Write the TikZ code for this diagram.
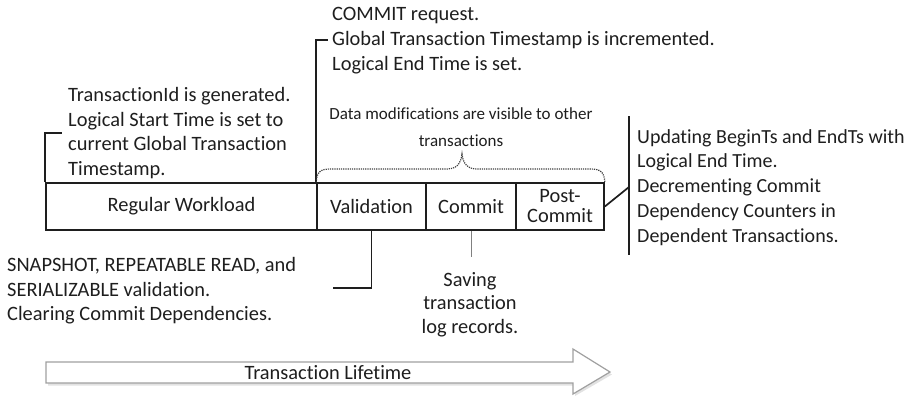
\documentclass[tikz,border=0pt]{standalone}
\usepackage{fontspec}
\setmainfont{Carlito}[Ligatures=NoCommon]
\definecolor{ink}{HTML}{1E1E1E}
\definecolor{arrowgray}{HTML}{A0A0A0}
\definecolor{shadowgray}{HTML}{E2E2E2}
\begin{document}
\begin{tikzpicture}[x=1pt,y=-1pt,
  txt/.style={inner sep=0pt, text=ink, align=left, font=\fontsize{20.4}{24.8}\selectfont},
  smalltxt/.style={inner sep=0pt, text=ink, align=center, font=\fontsize{17}{27}\selectfont},
  cell/.style={draw=ink, line width=1.7pt, minimum height=47pt, inner sep=0pt, text=ink, font=\fontsize{20.4}{20}\selectfont, align=center},
  callout/.style={draw=ink, line width=1.7pt},
  thinline/.style={draw=gray, line width=0.9pt},
  bracestyle/.style={draw=ink!85, line width=1.2pt, densely dotted}
]
\useasboundingbox (0,0) rectangle (921,397);

% cells
\node[cell, minimum width=271pt] (rw) at (181.5,206.5) {Regular Workload};
\node[cell, minimum width=109pt] (val) at (371.5,206.5) {Validation};
\node[cell, minimum width=90pt] (com) at (471,206.5) {Commit};
\node[cell, minimum width=88pt] (post) at (560,206.5) {Post-\\Commit};

% texts
\node[txt, anchor=north west] (tid) at (68,87) {TransactionId is generated.\\Logical Start Time is set to\\current Global Transaction\\Timestamp.};
\node[txt, anchor=north west] (creq) at (332,7) {COMMIT request.\\Global Transaction Timestamp is incremented.\\Logical End Time is set.};
\node[smalltxt, anchor=north] (vis) at (461,107) {Data modifications are visible to other\\transactions};
\node[txt, anchor=north west, font=\fontsize{20}{24.8}\selectfont] (upd) at (637,129) {Updating BeginTs and EndTs with\\Logical End Time.\\Decrementing Commit\\Dependency Counters in\\Dependent Transactions.};
\node[txt, anchor=north west] (snap) at (7,257) {SNAPSHOT, REPEATABLE READ, and\\SERIALIZABLE validation.\\Clearing Commit Dependencies.};
\node[txt, anchor=north, align=center, font=\fontsize{20.4}{23.5}\selectfont] (save) at (470,272) {Saving\\transaction\\log records.};

% callout coordinates
\coordinate (c1) at (62,133);
\coordinate (c2) at (328,40);
\coordinate (c3) at (333,288);
\coordinate (c4) at (471,257);
\coordinate (c5) at (629,187);
\coordinate (c6) at (629,116);
\coordinate (c7) at (629,255);
\coordinate (btip) at (462,154);

% callouts
\draw[callout] (rw.north west) |- (c1);
\draw[callout] (val.north west) |- (c2);
\draw[callout] (val.south) |- (c3);
\draw[thinline] (com.south) -- (c4);
\draw[callout] (post.east) -- (c5);
\draw[callout] (c6) -- (c7);

% dotted brace
\draw[bracestyle] (val.north west) .. controls (317,172) and (320,169) .. (331,169)
  -- (447,169) .. controls (456,169) and (461,164) .. (btip)
  .. controls (463,164) and (468,169) .. (477,169)
  -- (590,169) .. controls (601,169) and (604,172) .. (post.north east);

% lifetime arrow
\fill[shadowgray] (48,364.5) -- (575,364.5) -- (575,351.5) -- (612,374.5) -- (575,396) -- (575,385.5) -- (48,385.5) -- cycle;
\draw[arrowgray, fill=white, line width=1.2pt, line join=miter]
  (46,362) -- (573,362) -- (573,349) -- (610,372) -- (573,394) -- (573,383) -- (46,383) -- cycle;
\node[txt, anchor=center] (life) at (328,372.5) {Transaction Lifetime};
\end{tikzpicture}
\end{document}
